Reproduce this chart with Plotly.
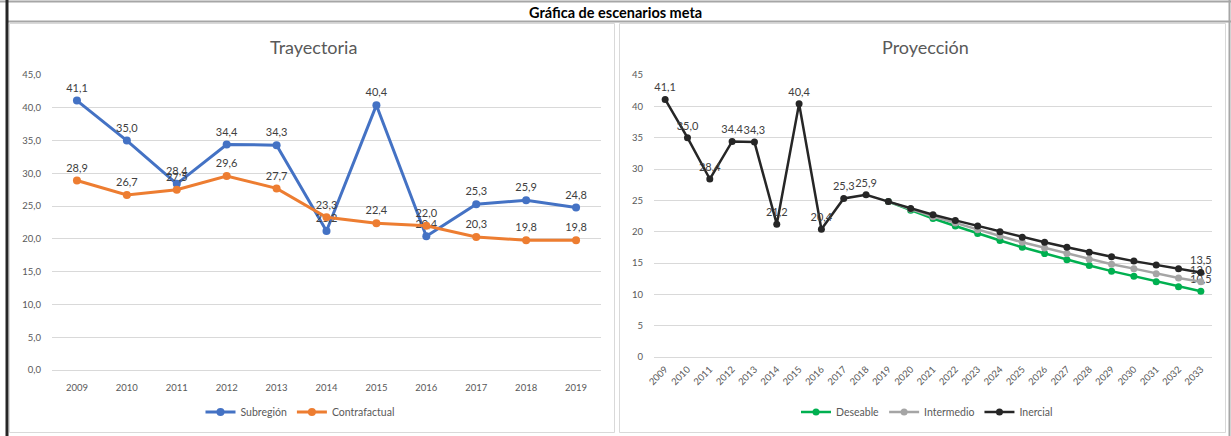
import plotly.graph_objects as go

W, H = 1231, 436

# ---------------- data ----------------
years_hist = ["2009", "2010", "2011", "2012", "2013", "2014", "2015", "2016", "2017", "2018", "2019"]
subregion = [41.1, 35.0, 28.4, 34.4, 34.3, 21.2, 40.4, 20.4, 25.3, 25.9, 24.8]
contrafactual = [28.9, 26.7, 27.5, 29.6, 27.7, 23.3, 22.4, 22.0, 20.3, 19.8, 19.8]

years_proj = ["2009", "2010", "2011", "2012", "2013", "2014", "2015", "2016", "2017", "2018", "2019",
              "2020", "2021", "2022", "2023", "2024", "2025", "2026", "2027", "2028", "2029",
              "2030", "2031", "2032", "2033"]
years_scen = ["2019", "2020", "2021", "2022", "2023", "2024", "2025", "2026", "2027", "2028", "2029",
              "2030", "2031", "2032", "2033"]
deseable = [24.8, 23.4, 22.1, 20.9, 19.7, 18.6, 17.5, 16.5, 15.5, 14.6, 13.7, 12.9, 12.0, 11.2, 10.5]
intermedio = [24.8, 23.6, 22.4, 21.4, 20.3, 19.3, 18.3, 17.4, 16.5, 15.6, 14.8, 14.1, 13.3, 12.6, 12.0]
inercial = [41.1, 35.0, 28.4, 34.4, 34.3, 21.2, 40.4, 20.4, 25.3, 25.9, 24.8,
            23.7, 22.7, 21.8, 20.9, 20.0, 19.1, 18.3, 17.5, 16.7, 16.0, 15.3, 14.7, 14.1, 13.5]

# ---------------- helpers ----------------
def px_x(p):
    return p / W

def px_y(p):
    return 1 - p / H

def fmt(v):
    return f"{v:.1f}".replace(".", ",")

FONT = "Lato, 'Open Sans', sans-serif"
TICK = "#595959"
LBL = "#404040"
GRID = "#D9D9D9"

BLUE = "#4472C4"
ORANGE = "#ED7D31"
GREEN = "#00B050"
GRAY = "#A5A5A5"
BLACK = "#262626"

LBL_SIZE = 11

fig = go.Figure()

# ---- left chart ----
fig.add_trace(go.Scatter(
    x=years_hist, y=subregion, name="Subregión", mode="lines+markers+text",
    line=dict(color=BLUE, width=3), marker=dict(color=BLUE, size=8),
    text=[fmt(v) for v in subregion], textposition="top center",
    textfont=dict(color=LBL, size=LBL_SIZE, family=FONT),
    xaxis="x", yaxis="y", legend="legend", cliponaxis=False))
fig.add_trace(go.Scatter(
    x=years_hist, y=contrafactual, name="Contrafactual", mode="lines+markers+text",
    line=dict(color=ORANGE, width=3), marker=dict(color=ORANGE, size=8),
    text=[fmt(v) for v in contrafactual], textposition="top center",
    textfont=dict(color=LBL, size=LBL_SIZE, family=FONT),
    xaxis="x", yaxis="y", legend="legend", cliponaxis=False))

# ---- right chart ----
def end_text(vals):
    return [""] * (len(vals) - 1) + [fmt(vals[-1])]

iner_text = [fmt(v) if i < 10 or i == len(inercial) - 1 else "" for i, v in enumerate(inercial)]

fig.add_trace(go.Scatter(
    x=years_scen, y=deseable, name="Deseable", mode="lines+markers+text",
    line=dict(color=GREEN, width=2.5), marker=dict(color=GREEN, size=7),
    text=end_text(deseable), textposition="top center",
    textfont=dict(color=LBL, size=LBL_SIZE, family=FONT),
    xaxis="x2", yaxis="y2", legend="legend2", cliponaxis=False))
fig.add_trace(go.Scatter(
    x=years_scen, y=intermedio, name="Intermedio", mode="lines+markers+text",
    line=dict(color=GRAY, width=2.5), marker=dict(color=GRAY, size=7),
    text=end_text(intermedio), textposition="top center",
    textfont=dict(color=LBL, size=LBL_SIZE, family=FONT),
    xaxis="x2", yaxis="y2", legend="legend2", cliponaxis=False))
fig.add_trace(go.Scatter(
    x=years_proj, y=inercial, name="Inercial", mode="lines+markers+text",
    line=dict(color=BLACK, width=2.5), marker=dict(color=BLACK, size=7),
    text=iner_text, textposition="top center",
    textfont=dict(color=LBL, size=LBL_SIZE, family=FONT),
    xaxis="x2", yaxis="y2", legend="legend2", cliponaxis=False))

# ---------------- layout ----------------
axis_common = dict(showline=False, ticks="", tickfont=dict(color=TICK, size=9.5, family=FONT))

fig.update_layout(
    width=W, height=H,
    margin=dict(l=0, r=0, t=0, b=0, autoexpand=False),
    paper_bgcolor="white", plot_bgcolor="white",
    separators=", ",
    font=dict(family=FONT, color=TICK),
    xaxis=dict(domain=[px_x(52), px_x(601)], type="category", showgrid=False,
               categoryorder="array", categoryarray=years_hist, range=[-0.5, 10.5],
               ticklabelstandoff=10, **axis_common),
    yaxis=dict(domain=[px_y(370), px_y(75)], range=[0, 45], dtick=5, tickformat=".1f",
               showgrid=True, gridcolor=GRID, gridwidth=1, zeroline=True, zerolinecolor=GRID,
               zerolinewidth=1, ticklabelstandoff=10, **axis_common),
    xaxis2=dict(domain=[px_x(654), px_x(1212)], type="category", showgrid=False,
                categoryorder="array", categoryarray=years_proj, range=[-0.5, 24.5],
                tickangle=-45, ticklabelstandoff=4, anchor="y2", **axis_common),
    yaxis2=dict(domain=[px_y(357), px_y(75)], range=[0, 45], dtick=5, tickformat="d",
                showgrid=True, gridcolor=GRID, gridwidth=1, zeroline=True, zerolinecolor=GRID,
                zerolinewidth=1, ticklabelstandoff=10, anchor="x2", **axis_common),
    legend=dict(orientation="h", x=px_x(300), xanchor="center", y=px_y(412), yanchor="middle",
                font=dict(color=TICK, size=10.5, family=FONT), bgcolor="rgba(0,0,0,0)",
                itemwidth=30, tracegroupgap=0),
    legend2=dict(orientation="h", x=px_x(927), xanchor="center", y=px_y(412), yanchor="middle",
                 font=dict(color=TICK, size=10.5, family=FONT), bgcolor="rgba(0,0,0,0)",
                 itemwidth=30, tracegroupgap=0),
    showlegend=True,
)

annotations = [
    dict(text="<b>Gráfica de escenarios meta</b>", x=px_x(615), y=px_y(12), xref="paper", yref="paper",
         showarrow=False, font=dict(size=14.5, color="#000000", family=FONT), xanchor="center", yanchor="middle"),
    dict(text="Trayectoria", x=px_x(313), y=px_y(47), xref="paper", yref="paper",
         showarrow=False, font=dict(size=18, color=TICK, family=FONT), xanchor="center", yanchor="middle"),
    dict(text="Proyección", x=px_x(925), y=px_y(47), xref="paper", yref="paper",
         showarrow=False, font=dict(size=18, color=TICK, family=FONT), xanchor="center", yanchor="middle"),
]
fig.update_layout(annotations=annotations)

shapes = [
    # top & title bar lines
    dict(type="line", x0=0, x1=1, y0=px_y(1.5), y1=px_y(1.5), line=dict(color="#A6A6A6", width=2)),
    dict(type="line", x0=px_x(8), x1=1, y0=px_y(21.5), y1=px_y(21.5), line=dict(color="#A6A6A6", width=2)),
    # thick left border
    dict(type="line", x0=px_x(7), x1=px_x(7), y0=0, y1=1, line=dict(color="#262626", width=3)),
    # right border
    dict(type="line", x0=px_x(1229.5), x1=px_x(1229.5), y0=0, y1=1, line=dict(color="#A6A6A6", width=2)),
    # panel frames
    dict(type="rect", x0=px_x(9.5), x1=px_x(614.5), y0=px_y(432.5), y1=px_y(23.5),
         line=dict(color="#D9D9D9", width=1)),
    dict(type="rect", x0=px_x(619.5), x1=px_x(1225.5), y0=px_y(432.5), y1=px_y(23.5),
         line=dict(color="#D9D9D9", width=1)),
]
for s in shapes:
    s.update(xref="paper", yref="paper", layer="below")
fig.update_layout(shapes=shapes)

fig.write_html(
    "out.html",
    config={"displayModeBar": False},
    post_script="document.body.style.margin='0px';document.body.style.overflow='hidden';",
)
